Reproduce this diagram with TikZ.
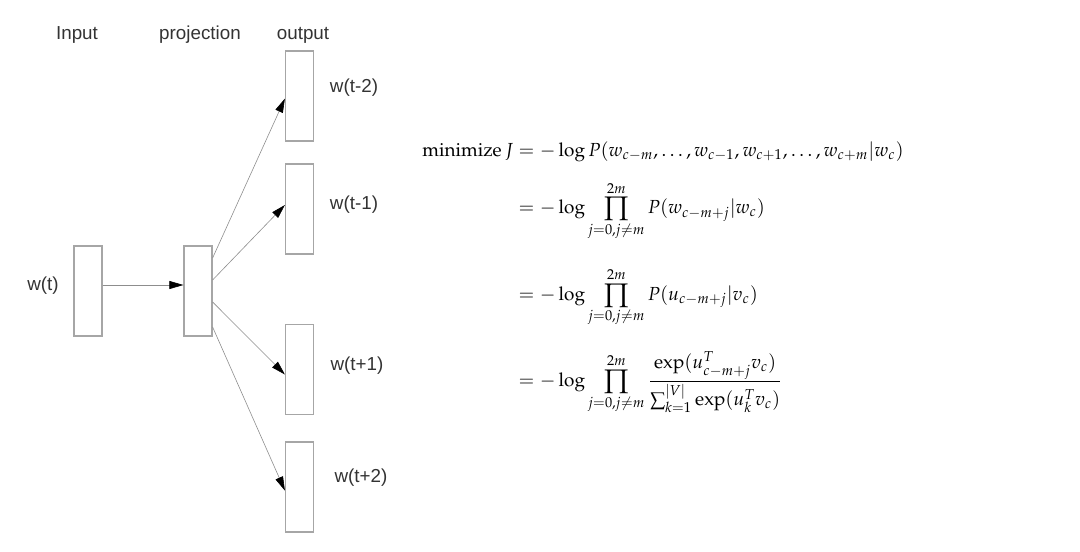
\documentclass[tikz,border=0pt]{standalone}
\usepackage{amsmath}
\usepackage{mathpazo}
\usepackage[no-math]{fontspec}
\newfontfamily\labelfont{Liberation Sans}
\usetikzlibrary{arrows.meta,positioning}
\definecolor{BoxGray}{HTML}{A6A6A6}
\definecolor{LabelGray}{HTML}{333333}

\begin{document}
\begin{tikzpicture}[x=0.5pt,y=-0.5pt,
    vecbox/.style={draw=BoxGray,line width=0.6pt,minimum width=14pt,minimum height=45pt,inner sep=0pt},
    lbl/.style={font=\labelfont\fontsize{9.4}{11}\selectfont,text=LabelGray},
    flow/.style={draw=BoxGray!85!black,line width=0.3pt,-{Triangle[length=7pt,width=4pt,black]}}]
  \useasboundingbox (0,0) rectangle (1080,551);
  % word vectors
  \node[vecbox] (in) at (88,291) {};
  \node[vecbox] (proj) at (198,291) {};
  \node[vecbox] (out1) at (299.5,96) {};
  \node[vecbox] (out2) at (299.5,209) {};
  \node[vecbox] (out3) at (299.5,369.5) {};
  \node[vecbox] (out4) at (299.5,487) {};
  % layer titles and word labels
  \node[lbl] (inlbl) at (77,35) {Input};
  \node[lbl] (projlbl) at (200,35) {projection};
  \node[lbl] (outlbl) at (303,35) {output};
  \node[lbl] (wt) at (43,286) {w(t)};
  \node[lbl] (wm2) at (354,88) {w(t-2)};
  \node[lbl] (wm1) at (354,205) {w(t-1)};
  \node[lbl] (wp1) at (357,366) {w(t+1)};
  \node[lbl] (wp2) at (361,478) {w(t+2)};
  % connections
  \draw[flow] ([yshift=3pt]in.east) -- ([yshift=3pt]proj.west);
  \draw[flow] ([yshift=16.5pt]proj.east) -- ([yshift=-1.3pt]out1.west);
  \draw[flow] ([yshift=5.5pt]proj.east) -- ([yshift=2pt]out2.west);
  \draw[flow] ([yshift=-5.5pt]proj.east) -- ([yshift=-2.5pt]out3.west);
  \draw[flow] ([yshift=-18pt]proj.east) -- ([yshift=-1.8pt]out4.west);
  % skip-gram objective
  \node[anchor=west,inner sep=0pt,font=\fontsize{9.45}{11}\selectfont] (loss) at (422,277)
  {$\displaystyle\begin{aligned}
    \mathrm{minimize}\,J &= -\log P(w_{c-m},\dots,w_{c-1},w_{c+1},\dots,w_{c+m}|w_c)\\[5.2pt]
    &= -\log\prod_{j=0,j\neq m}^{2m} P(w_{c-m+j}|w_c)\\[10pt]
    &= -\log\prod_{j=0,j\neq m}^{2m} P(u_{c-m+j}|v_c)\\[8.5pt]
    &= -\log\prod_{j=0,j\neq m}^{2m} \frac{\exp(u_{c-m+j}^{T}v_c)}{\sum_{k=1}^{|V|}\exp(u_k^{T}v_c)}
  \end{aligned}$};
\end{tikzpicture}
\end{document}
